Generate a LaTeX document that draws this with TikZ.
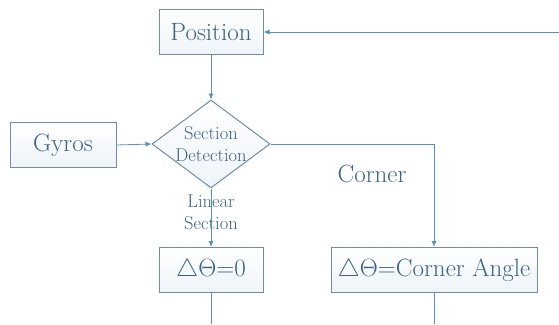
\documentclass[tikz,border=0pt]{standalone}
\usepackage{fix-cm}
\usepackage{xcolor}
\definecolor{flowblue}{RGB}{ 84, 146, 196}
\definecolor{boxedge}{RGB}{115, 140, 165}
\definecolor{labeltext}{RGB}{ 62,  98, 138}
\usetikzlibrary{
  shapes.geometric,
  arrows.meta, positioning
}

\tikzset{
  block/.style={draw=boxedge, line width=1pt, top color=white, bottom color=flowblue!10,
    minimum width=104pt, minimum height=45pt, inner sep=0pt, text=labeltext,
    font=\fontsize{25}{28}\selectfont},
  decision/.style={diamond, draw=boxedge, line width=1pt, top color=white, bottom color=flowblue!10,
    minimum width=118pt, minimum height=88pt, inner sep=0pt},
  smalltext/.style={text=labeltext, align=center, font=\fontsize{18.5}{22}\selectfont},
  flow/.style={draw=flowblue, line width=0.8pt},
  arr/.style={flow, -{Latex[length=6pt,width=5pt]}}
}

\begin{document}
\begin{tikzpicture}[x=1pt, y=-1pt]
    \useasboundingbox (0,0) rectangle (559,324);

    % boxes
    \node[block] (position) at (211,32) {Position};
    \node[block, minimum width=106pt] (gyros) at (63,145) {Gyros};
    \node[decision] (detect) at (211,144) {};
    \node[smalltext] (detecttext) at (detect) {Section\\Detection};
    \node[block] (zero) at (211,270) {$\triangle\Theta$=0};
    \node[block, minimum width=206pt] (cornerangle) at (434,270) {$\triangle\Theta$=Corner Angle};

    % labels
    \node[smalltext] (linear) at (211,212) {Linear\\Section};
    \node[text=labeltext, font=\fontsize{25}{28}\selectfont] (corner) at (372,174) {Corner};

    % loose ends
    \coordinate (loopin) at (559,32);
    \coordinate (zeroout) at (211,324);
    \coordinate (cornerout) at (434,324);

    % connectors
    \draw[arr] (loopin) -- (position.east);
    \draw[arr] (position.south) -- (detect.north);
    \draw[arr] (gyros.east) -- (detect.west);
    \draw[arr] (detect.south) -- (zero.north);
    \draw[arr] (detect.east) -| (cornerangle.north);
    \draw[flow] (zero.south) -- (zeroout);
    \draw[flow] (cornerangle.south) -- (cornerout);
  \end{tikzpicture}
\end{document}
